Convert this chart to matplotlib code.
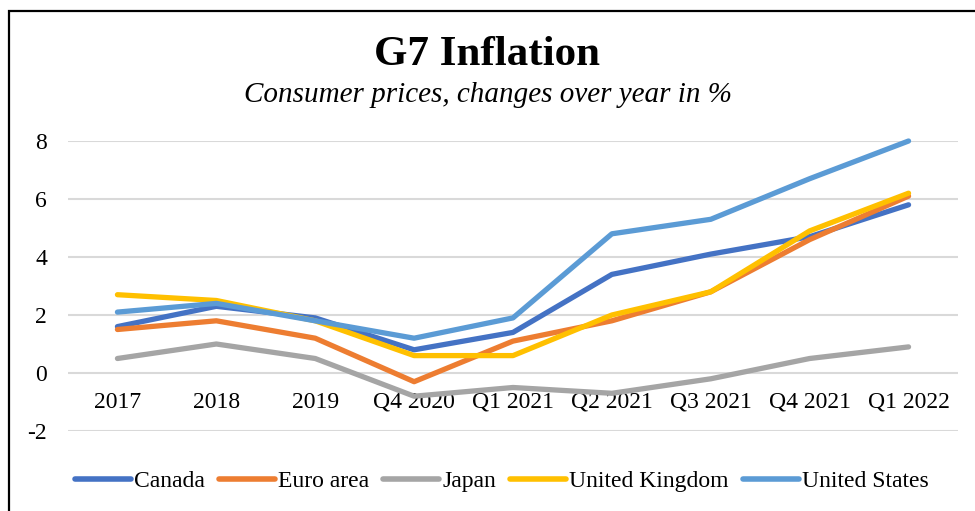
import matplotlib
matplotlib.use("Agg")
import matplotlib.pyplot as plt
from matplotlib.patches import Rectangle

categories = ["2017", "2018", "2019", "Q4 2020", "Q1 2021", "Q2 2021", "Q3 2021", "Q4 2021", "Q1 2022"]
canada = [1.6, 2.3, 1.9, 0.8, 1.4, 3.4, 4.1, 4.7, 5.8]
euro_area = [1.5, 1.8, 1.2, -0.3, 1.1, 1.8, 2.8, 4.6, 6.1]
japan = [0.5, 1.0, 0.5, -0.8, -0.5, -0.7, -0.2, 0.5, 0.9]
united_kingdom = [2.7, 2.5, 1.8, 0.6, 0.6, 2.0, 2.8, 4.9, 6.2]
united_states = [2.1, 2.4, 1.8, 1.2, 1.9, 4.8, 5.3, 6.7, 8.0]
y_ticks = [-2, 0, 2, 4, 6, 8]

series = [
    ("Canada", canada, "#4472C4"),
    ("Euro area", euro_area, "#ED7D31"),
    ("Japan", japan, "#A5A5A5"),
    ("United Kingdom", united_kingdom, "#FFC000"),
    ("United States", united_states, "#5B9BD5"),
]

plt.rcParams['font.family'] = ['Liberation Serif', 'DejaVu Serif']

W, H = 975, 511
fig = plt.figure(figsize=(W / 100, H / 100), dpi=100)
ax = fig.add_axes([68 / W, (H - 431) / H, (958 - 68) / W, (431 - 141) / H])

x = list(range(len(categories)))
for name, vals, col in series:
    ax.plot(x, vals, color=col, lw=3.8, label=name, solid_capstyle='round',
            solid_joinstyle='round', clip_on=False, zorder=3)

ax.set_xlim(-0.5, len(categories) - 0.5)
ax.set_ylim(-2, 8)
ax.set_yticks(y_ticks)
ax.set_yticklabels([str(t) for t in y_ticks], fontsize=17)
ax.tick_params(axis='y', length=0, pad=15)
ax.set_xticks([])
for s in ax.spines.values():
    s.set_visible(False)
ax.grid(axis='y', color='#D9D9D9', lw=1.5, zorder=0)
ax.set_axisbelow(True)

for i, c in enumerate(categories):
    ax.annotate(c, xy=(i, 0), xytext=(0, -21), textcoords='offset points',
                ha='center', va='center', fontsize=17, zorder=2)

fig.text(0.5, 1 - 55 / H, "G7 Inflation", ha='center', va='center',
         fontsize=31, fontweight='bold')
fig.text(0.5, 1 - 95 / H, "Consumer prices, changes over year in %", ha='center',
         va='center', fontsize=21, style='italic')

leg = fig.legend(loc='center', bbox_to_anchor=(502 / W, 1 - 481 / H), ncol=5,
                 frameon=False, fontsize=17, handlelength=2.35, handletextpad=0.15,
                 columnspacing=0.6)
for l in leg.get_lines():
    l.set_linewidth(4)
    l.set_solid_capstyle('round')

fig.patches.append(Rectangle((9 / W, -0.1), 1.2, 1 - 11 / H + 0.1, transform=fig.transFigure,
                             fill=False, edgecolor='black', lw=1.6, figure=fig))

fig.savefig("out.png", dpi=100)
